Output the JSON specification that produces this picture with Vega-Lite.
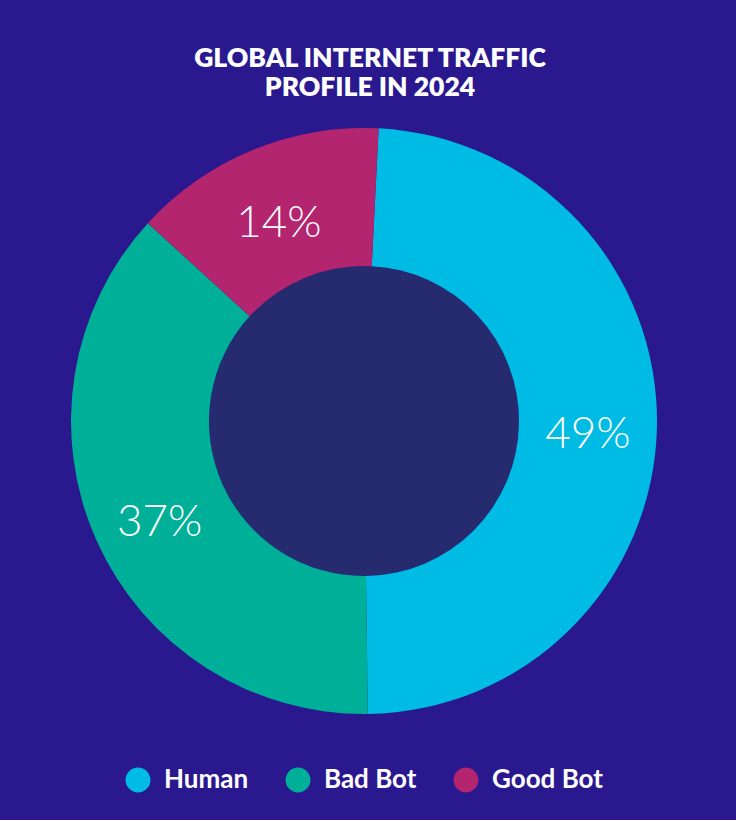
{
  "$schema": "https://vega.github.io/schema/vega-lite/v6.json",
  "width": 728,
  "height": 600,
  "padding": {"left": 0, "right": 8, "top": 45, "bottom": 27},
  "background": "#2a188f",
  "view": {"stroke": null},
  "title": {
    "text": ["GLOBAL INTERNET TRAFFIC", "PROFILE IN 2024"],
    "font": "Lato",
    "fontSize": 26.5,
    "fontWeight": 800,
    "lineHeight": 29,
    "color": "white",
    "anchor": "middle",
    "dx": 6,
    "offset": 20
  },
  "layer": [
    {
      "data": {"values": [{"part": "centre"}]},
      "mark": {"type": "arc", "radius": 155, "theta": 0, "theta2": 6.2832, "color": "#252b6e"},
      "encoding": {}
    },
    {
      "data": {
        "values": [
          {"traffic": "Human", "share": 0.49},
          {"traffic": "Bad Bot", "share": 0.37},
          {"traffic": "Good Bot", "share": 0.14}
        ]
      },
      "transform": [
        {"calculate": "indexof(['Human', 'Bad Bot', 'Good Bot'], datum.traffic)", "as": "slot"}
      ],
      "layer": [
        {
          "mark": {"type": "arc", "outerRadius": 293, "innerRadius": 155},
          "encoding": {
            "theta": {"field": "share", "type": "quantitative", "stack": true, "scale": {"range": [0.05, 6.3332]}},
            "order": {"field": "slot", "type": "quantitative"},
            "color": {
              "field": "traffic",
              "type": "nominal",
              "scale": {"domain": ["Human", "Bad Bot", "Good Bot"], "range": ["#00bbe3", "#00af98", "#b3256f"]},
              "legend": {
                "orient": "none",
                "legendX": 125,
                "legendY": 646,
                "direction": "horizontal",
                "title": null,
                "symbolType": "circle",
                "symbolSize": 620,
                "symbolOpacity": 1,
                "symbolStrokeWidth": 0,
                "labelFont": "Lato",
                "labelFontSize": 26,
                "labelFontWeight": 700,
                "labelColor": "white",
                "labelOffset": 13,
                "columnPadding": 36
              }
            }
          }
        },
        {
          "mark": {"type": "text", "radius": 224, "font": "Lato", "fontWeight": 300, "fontSize": 44, "color": "white", "dy": 10},
          "encoding": {
            "theta": {"field": "share", "type": "quantitative", "stack": true, "scale": {"range": [0.05, 6.3332]}},
            "order": {"field": "slot", "type": "quantitative"},
            "detail": {"field": "traffic"},
            "text": {"field": "share", "type": "quantitative", "format": ".0%"}
          }
        }
      ]
    }
  ]
}
